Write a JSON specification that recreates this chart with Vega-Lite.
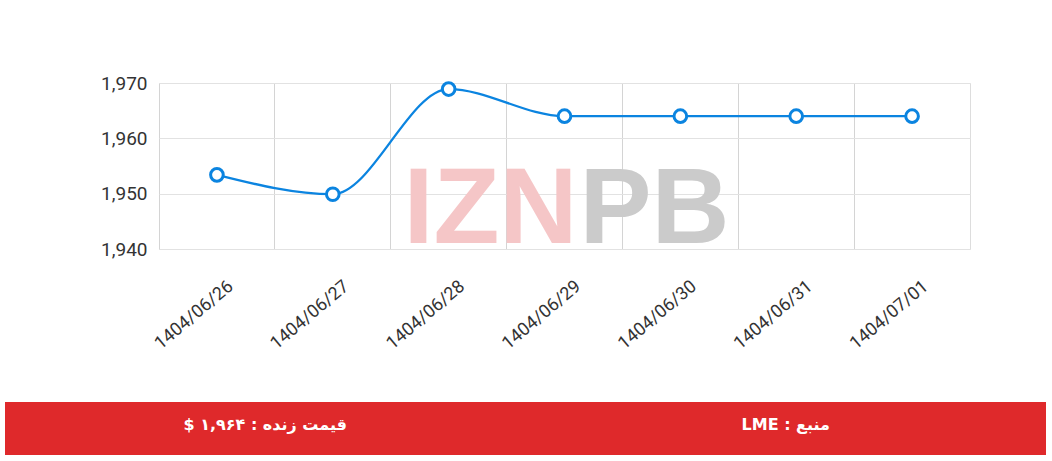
{
  "$schema": "https://vega.github.io/schema/vega-lite/v6.json",
  "background": "white",
  "padding": {"left": 5, "top": 73, "right": 5, "bottom": 6},
  "spacing": 49,
  "config": {"view": {"stroke": null}, "font": "Roboto"},
  "vconcat": [
    {
      "spacing": 0,
      "hconcat": [
        {
          "width": 83,
          "height": 10,
          "data": {"values": []},
          "mark": {"type": "point", "opacity": 0}
        },
        {
          "width": 811,
          "height": 166,
          "view": {"stroke": "#dddddd"},
          "data": {"values": [
            {"date": "1404/06/26", "price": 1953.4},
            {"date": "1404/06/27", "price": 1949.9},
            {"date": "1404/06/28", "price": 1968.9},
            {"date": "1404/06/29", "price": 1964},
            {"date": "1404/06/30", "price": 1964},
            {"date": "1404/06/31", "price": 1964},
            {"date": "1404/07/01", "price": 1964}
          ]},
          "encoding": {
            "x": {
              "field": "date", "type": "ordinal", "bandPosition": 0.5,
              "scale": {"type": "band", "paddingInner": 0, "paddingOuter": 0},
              "axis": {
                "title": null, "bandPosition": 0, "grid": true, "gridColor": "#d4d4d4",
                "ticks": false, "domain": false,
                "labelAngle": -40, "labelAlign": "right", "labelBaseline": "middle",
                "labelOffset": 14, "labelPadding": 35, "labelFontSize": 18, "labelColor": "#333333"
              }
            },
            "y": {
              "field": "price", "type": "quantitative",
              "scale": {"domain": [1940, 1970], "nice": false, "zero": false},
              "axis": {
                "title": null, "values": [1940, 1950, 1960, 1970], "format": ",d",
                "ticks": false, "domain": false, "gridColor": "#e2e2e2",
                "labelFontSize": 19, "labelColor": "#333333", "labelPadding": 12, "minExtent": 70
              }
            }
          },
          "layer": [
            {
              "data": {"values": [{"date": "1404/06/29", "level": 1941, "word": "IZN"}]},
              "mark": {"type": "text", "align": "right", "baseline": "alphabetic", "dx": 13, "font": "Liberation Sans", "fontWeight": "bold", "fontSize": 108, "color": "#f5c6c7"},
              "encoding": {"y": {"field": "level", "type": "quantitative"}, "text": {"field": "word"}}
            },
            {
              "data": {"values": [{"date": "1404/06/29", "level": 1941, "word": "PB"}]},
              "mark": {"type": "text", "align": "left", "baseline": "alphabetic", "dx": 15, "font": "Liberation Sans", "fontWeight": "bold", "fontSize": 108, "color": "#cbcbcb"},
              "encoding": {"y": {"field": "level", "type": "quantitative"}, "text": {"field": "word"}}
            },
            {
              "mark": {"type": "line", "interpolate": "monotone", "color": "#0b84e0", "strokeWidth": 2.3}
            },
            {
              "mark": {"type": "point", "shape": "circle", "filled": true, "fill": "white", "stroke": "#0b84e0", "strokeWidth": 3, "size": 160, "opacity": 1}
            }
          ]
        }
      ]
    },
    {
      "width": 1041,
      "height": 53,
      "view": {"fill": "#df292b", "stroke": null},
      "data": {"values": [
        {"pos": "a", "label": "\u202bقیمت زنده : ۱,۹۶۴ $\u202c"},
        {"pos": "b", "label": "\u202bمنبع : LME\u202c"}
      ]},
      "mark": {"type": "text", "color": "white", "fontSize": 16, "fontWeight": "bold", "font": "DejaVu Sans", "dy": -4},
      "encoding": {
        "x": {"field": "pos", "type": "nominal", "scale": {"type": "band", "paddingInner": 0, "paddingOuter": 0}, "axis": null},
        "text": {"field": "label"}
      }
    }
  ]
}
